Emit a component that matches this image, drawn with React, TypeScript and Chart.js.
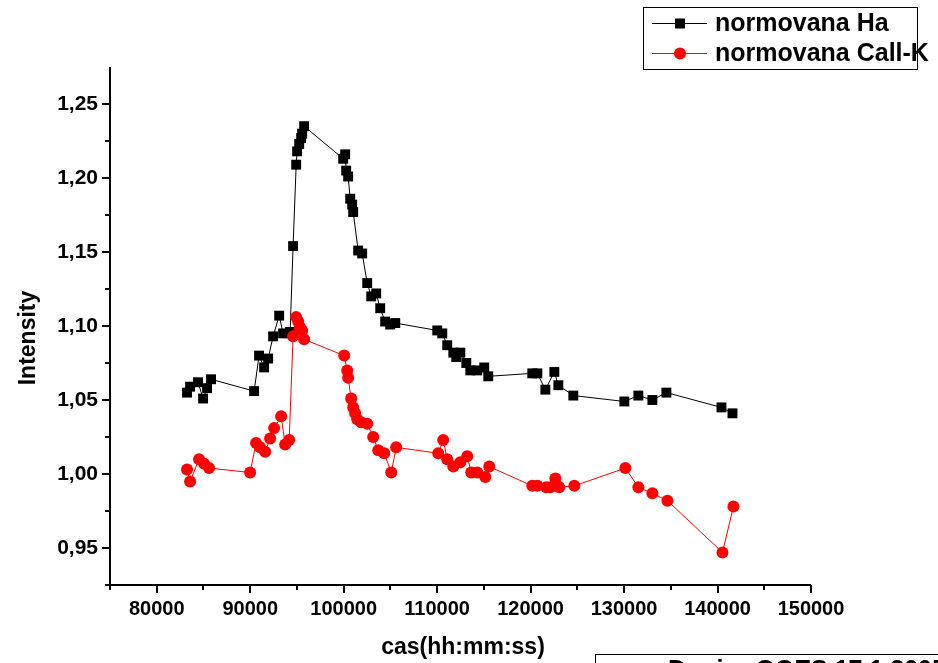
import { useEffect, useRef } from 'react';
import { Chart, registerables } from 'chart.js';

Chart.register(...registerables);

// Normalised H-alpha intensity (time as hhmmss number)
const haTime = [
  83240, 83570, 84420, 84960, 85390, 85810, 90420, 90950, 91490, 91920,
  92450, 93100, 93520, 94270, 94590, 94920, 95020, 95240, 95450, 95560,
  95770, 99950, 100160, 100270, 100480, 100700, 100910, 101020, 101550, 101980,
  102520, 102950, 103480, 103910, 104440, 104980, 105520, 110010, 110550, 111080,
  111730, 112050, 112480, 113120, 113550, 114300, 115040, 115470, 120180, 120720,
  121580, 122540, 122970, 124570, 130030, 131530, 133030, 134530, 140420, 141600,
];
const haValue = [
  1.055, 1.059, 1.062, 1.051, 1.058, 1.064, 1.056, 1.080, 1.072, 1.078,
  1.093, 1.107, 1.095, 1.096, 1.154, 1.209, 1.218, 1.223, 1.227, 1.230,
  1.235, 1.213, 1.216, 1.205, 1.201, 1.186, 1.182, 1.177, 1.151, 1.149,
  1.129, 1.120, 1.122, 1.112, 1.103, 1.101, 1.102, 1.097, 1.095, 1.087,
  1.082, 1.079, 1.082, 1.075, 1.070, 1.070, 1.072, 1.066, 1.068, 1.068,
  1.057, 1.069, 1.060, 1.053, 1.049, 1.053, 1.050, 1.055, 1.045, 1.041,
];

// Normalised Ca II K intensity
const caTime = [
  83240, 83570, 84530, 85070, 85600, 89990, 90630, 91060, 91600, 92130,
  92560, 93310, 93740, 94170, 94590, 94920, 95130, 95340, 95560, 95770,
  100060, 100380, 100480, 100800, 101020, 101230, 101450, 101870, 102520, 103160,
  103700, 104340, 105090, 105620, 110120, 110650, 111080, 111730, 112480, 113220,
  113650, 114300, 115150, 115580, 120180, 120720, 121680, 122110, 122650, 123070,
  124680, 130140, 131530, 133030, 134640, 140530, 141700,
];
const caValue = [
  1.003, 0.995, 1.010, 1.007, 1.004, 1.001, 1.021, 1.018, 1.015, 1.024,
  1.031, 1.039, 1.020, 1.023, 1.093, 1.106, 1.103, 1.099, 1.097, 1.091,
  1.080, 1.070, 1.065, 1.051, 1.045, 1.041, 1.037, 1.035, 1.034, 1.025,
  1.016, 1.014, 1.001, 1.018, 1.014, 1.023, 1.010, 1.005, 1.008, 1.012,
  1.001, 1.001, 0.998, 1.005, 0.992, 0.992, 0.991, 0.991, 0.997, 0.991,
  0.992, 1.004, 0.991, 0.987, 0.982, 0.947, 0.978,
];

const xTicks = [80000, 90000, 100000, 110000, 120000, 130000, 140000, 150000];
const yTicks = [0.95, 1.0, 1.05, 1.1, 1.15, 1.2, 1.25];
const seriesNames = ['normovana Ha', 'normovana Call-K'];
const xTitle = 'cas(hh:mm:ss)';
const yTitle = 'Intensity';
const noteText = 'Dopior GOES 17.1.2005';

const X_MIN = 75000;
const X_MAX = 150000;
const Y_MIN = 0.925;
const Y_MAX = 1.275;

const FONT = '"Liberation Sans", Arial, sans-serif';

// Axis lines with major/minor outward ticks, axis titles, legend box and note box
const decorations = {
  id: 'decorations',
  afterDraw(chart: any) {
    const { ctx, chartArea: a, scales } = chart;
    const xs = scales.x;
    const ys = scales.y;
    ctx.save();
    ctx.strokeStyle = '#000';
    ctx.fillStyle = '#000';
    ctx.lineWidth = 2;
    ctx.lineCap = 'butt';

    ctx.beginPath();
    ctx.moveTo(a.left, a.top);
    ctx.lineTo(a.left, a.bottom + 1);
    ctx.moveTo(a.left - 1, a.bottom);
    ctx.lineTo(a.right, a.bottom);
    ctx.stroke();

    ctx.beginPath();
    for (let k = 0; k <= 14; k++) {
      const v = Y_MIN + 0.025 * k;
      if (v > Y_MAX - 0.001) break;
      const py = Math.round(ys.getPixelForValue(v));
      const len = k % 2 === 1 ? 8 : 5;
      ctx.moveTo(a.left, py);
      ctx.lineTo(a.left - len, py);
    }
    for (let k = 0; k <= 15; k++) {
      const v = X_MIN + 5000 * k;
      const px = Math.round(xs.getPixelForValue(v));
      const len = k % 2 === 1 ? 8 : 5;
      ctx.moveTo(px, a.bottom);
      ctx.lineTo(px, a.bottom + len);
    }
    ctx.stroke();

    // axis titles
    ctx.font = `bold 23px ${FONT}`;
    ctx.textAlign = 'center';
    ctx.textBaseline = 'middle';
    ctx.save();
    ctx.translate(29, 338);
    ctx.rotate(-Math.PI / 2);
    ctx.fillText(yTitle, 0, 0);
    ctx.restore();
    ctx.fillText(xTitle, 463, 648);

    // legend
    ctx.lineWidth = 1;
    ctx.strokeRect(643.5, 7.5, 274, 62);
    const rows = [
      { y: 23, color: '#000', shape: 'rect' },
      { y: 53, color: '#ff0000', shape: 'circle' },
    ];
    rows.forEach((r, i) => {
      ctx.strokeStyle = r.color;
      ctx.fillStyle = r.color;
      ctx.lineWidth = 1;
      ctx.beginPath();
      ctx.moveTo(652, r.y + 0.5);
      ctx.lineTo(707, r.y + 0.5);
      ctx.stroke();
      if (r.shape === 'rect') {
        ctx.fillRect(675, r.y - 4.5, 10, 10);
      } else {
        ctx.beginPath();
        ctx.arc(680, r.y + 0.5, 6, 0, Math.PI * 2);
        ctx.fill();
      }
      ctx.fillStyle = '#000';
      ctx.font = `bold 25px ${FONT}`;
      ctx.textAlign = 'left';
      ctx.textBaseline = 'middle';
      ctx.fillText(seriesNames[i], 715, r.y + 1);
    });

    // note box in the lower right corner
    ctx.strokeStyle = '#000';
    ctx.lineWidth = 1;
    ctx.strokeRect(595.5, 654.5, 400, 60);
    ctx.fillStyle = '#000';
    ctx.font = `bold 25px ${FONT}`;
    ctx.textAlign = 'left';
    ctx.textBaseline = 'top';
    ctx.fillText(noteText, 668, 659);

    ctx.restore();
  },
};

export default function App() {
  const canvasRef = useRef<HTMLCanvasElement | null>(null);

  useEffect(() => {
    const canvas = canvasRef.current;
    if (!canvas) return;
    const chart = new Chart(canvas, {
      type: 'line',
      data: {
        datasets: [
          {
            label: seriesNames[0],
            data: haTime.map((t, i) => ({ x: t, y: haValue[i] })),
            borderColor: '#000',
            backgroundColor: '#000',
            borderWidth: 1,
            pointStyle: 'rect',
            pointRadius: 7,
            pointBorderWidth: 0,
            pointBackgroundColor: '#000',
            order: 1,
          },
          {
            label: seriesNames[1],
            data: caTime.map((t, i) => ({ x: t, y: caValue[i] })),
            borderColor: '#ff0000',
            backgroundColor: '#ff0000',
            borderWidth: 1,
            pointStyle: 'circle',
            pointRadius: 6,
            pointBorderWidth: 0,
            pointBackgroundColor: '#ff0000',
            order: 0,
          },
        ],
      },
      options: {
        animation: false,
        responsive: false,
        devicePixelRatio: 1,
        layout: { padding: { left: 0, top: 67, right: 127, bottom: 0 } },
        plugins: {
          legend: { display: false },
          tooltip: { enabled: false },
        },
        scales: {
          x: {
            type: 'linear',
            min: X_MIN,
            max: X_MAX,
            grid: { display: false },
            border: { display: false },
            afterBuildTicks: (s: any) => {
              s.ticks = xTicks.map((v) => ({ value: v }));
            },
            afterFit: (s: any) => {
              s.height = 78;
            },
            ticks: {
              color: '#000',
              font: { family: FONT, size: 20, weight: 'bold' },
              padding: 4,
              maxRotation: 0,
              autoSkip: false,
              callback: (v: any) => String(v),
            },
          },
          y: {
            type: 'linear',
            min: Y_MIN,
            max: Y_MAX,
            grid: { display: false },
            border: { display: false },
            afterBuildTicks: (s: any) => {
              s.ticks = yTicks.map((v) => ({ value: v }));
            },
            afterFit: (s: any) => {
              s.width = 110;
            },
            ticks: {
              color: '#000',
              font: { family: FONT, size: 21, weight: 'bold' },
              padding: 4,
              autoSkip: false,
              callback: (v: any) => Number(v).toFixed(2).replace('.', ','),
            },
          },
        },
      },
      plugins: [decorations],
    } as any);
    return () => chart.destroy();
  }, []);

  return (
    <div style={{ position: 'fixed', left: 0, top: 0, width: 938, height: 663, background: '#fff' }}>
      <canvas ref={canvasRef} width={938} height={663} style={{ display: 'block' }} />
    </div>
  );
}
